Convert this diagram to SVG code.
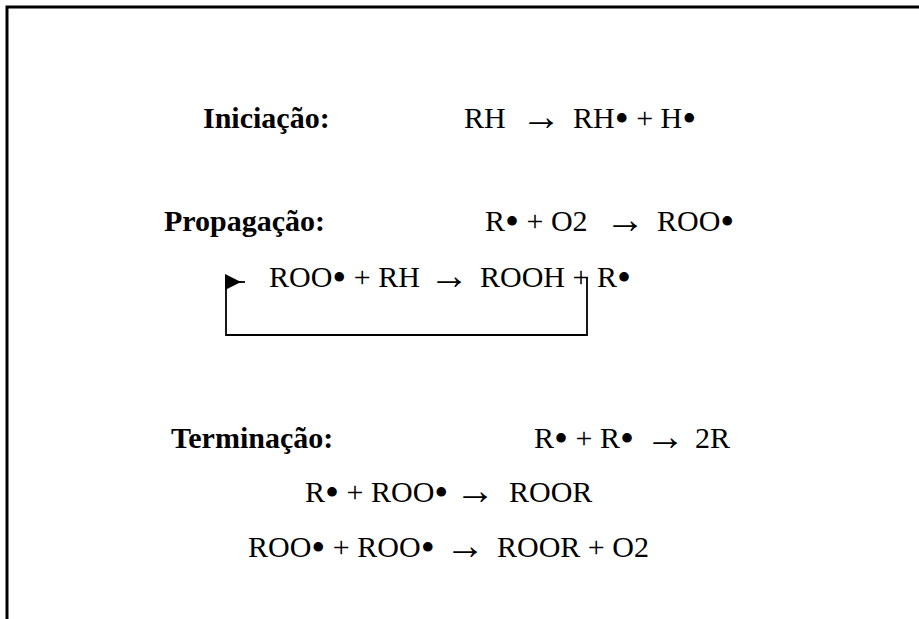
<svg xmlns="http://www.w3.org/2000/svg" width="919" height="619" viewBox="0 0 919 619">
<style>
.t{font-family:"Liberation Serif","Times New Roman",serif;font-size:30px;fill:#000}
.b{font-weight:bold}
.d{font-size:40px}
.a{font-size:40px;text-anchor:middle}
.ln{stroke:#000;stroke-width:1.8;fill:none}
</style>
<defs>
<marker id="ah" markerWidth="16" markerHeight="16" refX="16" refY="8" orient="auto" markerUnits="userSpaceOnUse">
<path d="M0,0 L16,8 L0,16 Z" fill="#000"/>
</marker>
</defs>
<rect width="919" height="619" fill="#fff"/>
<g id="frame">
<path d="M7,619 V7 H919" stroke="#000" stroke-width="3" fill="none"/>
</g>
<g id="iniciacao">
<text class="t b" x="203" y="128">Iniciação:</text>
<text class="t" x="464" y="128">RH</text>
<text class="t a" x="541" y="130">→</text>
<text class="t" x="573" y="128">RH<tspan class="d" dy="4">•</tspan><tspan dy="-4"> + H</tspan><tspan class="d" dy="4">•</tspan></text>
</g>
<g id="propagacao">
<text class="t b" x="164" y="231">Propagação:</text>
<text class="t" x="485" y="231">R<tspan class="d" dy="4">•</tspan><tspan dy="-4"> + O2</tspan></text>
<text class="t a" x="625" y="233">→</text>
<text class="t" x="657" y="231">ROO<tspan class="d" dy="4">•</tspan></text>
</g>
<g id="propagacao2">
<text class="t" x="269" y="287">ROO<tspan class="d" dy="4">•</tspan><tspan dy="-4"> + RH</tspan></text>
<text class="t a" x="449" y="289">→</text>
<text class="t" x="480" y="287">ROOH + R<tspan class="d" dy="4">•</tspan></text>
</g>
<g id="terminacao">
<text class="t b" x="171" y="448">Terminação:</text>
<text class="t" x="534" y="448">R<tspan class="d" dy="4">•</tspan><tspan dy="-4"> + R</tspan><tspan class="d" dy="4">•</tspan></text>
<text class="t a" x="665" y="450">→</text>
<text class="t" x="695" y="448">2R</text>
<text class="t" x="305" y="502">R<tspan class="d" dy="4">•</tspan><tspan dy="-4"> + ROO</tspan><tspan class="d" dy="4">•</tspan></text>
<text class="t a" x="475" y="504">→</text>
<text class="t" x="509" y="502">ROOR</text>
<text class="t" x="248" y="557">ROO<tspan class="d" dy="4">•</tspan><tspan dy="-4"> + ROO</tspan><tspan class="d" dy="4">•</tspan></text>
<text class="t a" x="465" y="559">→</text>
<text class="t" x="497" y="557">ROOR + O2</text>
</g>
<g id="connectors">
<path class="ln" d="M587,278 V335 H226 V282 H241" marker-end="url(#ah)"/>
<path class="ln" d="M241,282 H245"/>
</g>
</svg>
